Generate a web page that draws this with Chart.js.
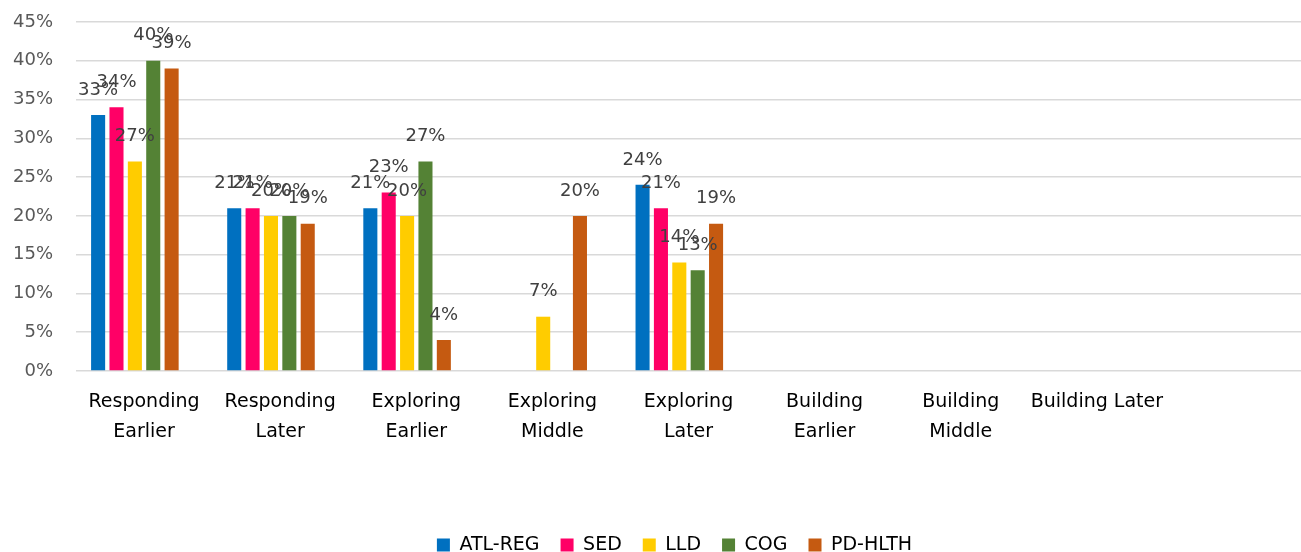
<!DOCTYPE html>
<html><head><meta charset="utf-8">
<script src="https://cdn.jsdelivr.net/npm/chart.js@4.4.1/dist/chart.umd.min.js"></script>
<style>html,body{margin:0;padding:0;background:#fff}#wrap{width:1301px;height:552px;position:relative}</style>
</head><body><div id="wrap"><canvas id="c"></canvas></div>
<script>
const categories = [['Responding','Earlier'],['Responding','Later'],['Exploring','Earlier'],['Exploring','Middle'],['Exploring','Later'],['Building','Earlier'],['Building','Middle'],'Building Later',''];
const seriesNames = ['ATL-REG','SED','LLD','COG','PD-HLTH'];
const atlReg = [33,21,21,null,24,null,null,null,null];
const sed    = [34,21,23,null,21,null,null,null,null];
const lld    = [27,20,20,7,14,null,null,null,null];
const cog    = [40,20,27,null,13,null,null,null,null];
const pdHlth = [39,19,4,20,19,null,null,null,null];
const emptySeries = [null,null,null,null,null,null,null,null,null];
const yTickValues = [0,5,10,15,20,25,30,35,40,45];
const seriesColors = ['#0070C0','#FF0066','#FFCC00','#548235','#C55A11'];

const FONT = '"DejaVu Sans", sans-serif';
const seriesData = [atlReg, sed, lld, cog, pdHlth];
const datasets = seriesNames.map((n,i)=>({label:n,data:seriesData[i],backgroundColor:seriesColors[i],borderWidth:0}));
datasets.push({label:'',data:emptySeries,backgroundColor:'rgba(0,0,0,0)'});

const valueLabels = {
  id:'valueLabels',
  afterDatasetsDraw(chart){
    const ctx = chart.ctx;
    ctx.save();
    ctx.font = '18px ' + FONT;
    ctx.fillStyle = '#404040';
    ctx.textAlign = 'center';
    ctx.textBaseline = 'middle';
    chart.data.datasets.forEach((ds,i)=>{
      if(!seriesNames.includes(ds.label)) return;
      const meta = chart.getDatasetMeta(i);
      meta.data.forEach((bar,j)=>{
        const v = ds.data[j];
        if(v==null) return;
        ctx.fillText(v+'%', bar.x, bar.y-25);
      });
    });
    ctx.restore();
  }
};

const SHIFT_Y = 12.5, SHIFT_X = 24;
const legendShift = {
  id:'legendShift',
  afterLayout(chart){
    const lg = chart.legend;
    if(!lg) return;
    lg.top += SHIFT_Y; lg.bottom += SHIFT_Y;
    lg.left += SHIFT_X; lg.right += SHIFT_X;
    if (lg.legendHitBoxes) lg.legendHitBoxes.forEach(h=>{h.top+=SHIFT_Y; h.left+=SHIFT_X;});
  }
};

new Chart(document.getElementById('c'), {
  type:'bar',
  data:{labels:categories, datasets},
  options:{
    responsive:true, maintainAspectRatio:false, animation:false,
    layout:{padding:{top:22,right:0,bottom:0,left:0}},
    datasets:{bar:{categoryPercentage:0.81,barPercentage:0.765}},
    plugins:{
      legend:{position:'bottom',
        labels:{color:'#000',font:{family:FONT,size:19},boxWidth:13,boxHeight:13,padding:21,
          filter:(item)=>item.text!==''}},
      tooltip:{enabled:false}
    },
    scales:{
      x:{
        grid:{display:false,drawTicks:false},
        border:{display:false},
        ticks:{color:'#000',font:{family:FONT,size:19,lineHeight:1.53},maxRotation:0,autoSkip:false,padding:17},
        afterFit(s){ s.height = 131; }
      },
      y:{
        min:0,max:45,
        afterBuildTicks(s){ s.ticks = yTickValues.map(v=>({value:v})); },
        grid:{color:'#D9D9D9',lineWidth:1.5,drawTicks:true,tickLength:23,tickColor:'rgba(0,0,0,0)'},
        border:{display:false},
        ticks:{color:'#595959',font:{family:FONT,size:18},padding:0,callback:v=>v+'%'},
        afterFit(s){ s.width = 76; }
      }
    }
  },
  plugins:[valueLabels, legendShift]
});
</script></body></html>
